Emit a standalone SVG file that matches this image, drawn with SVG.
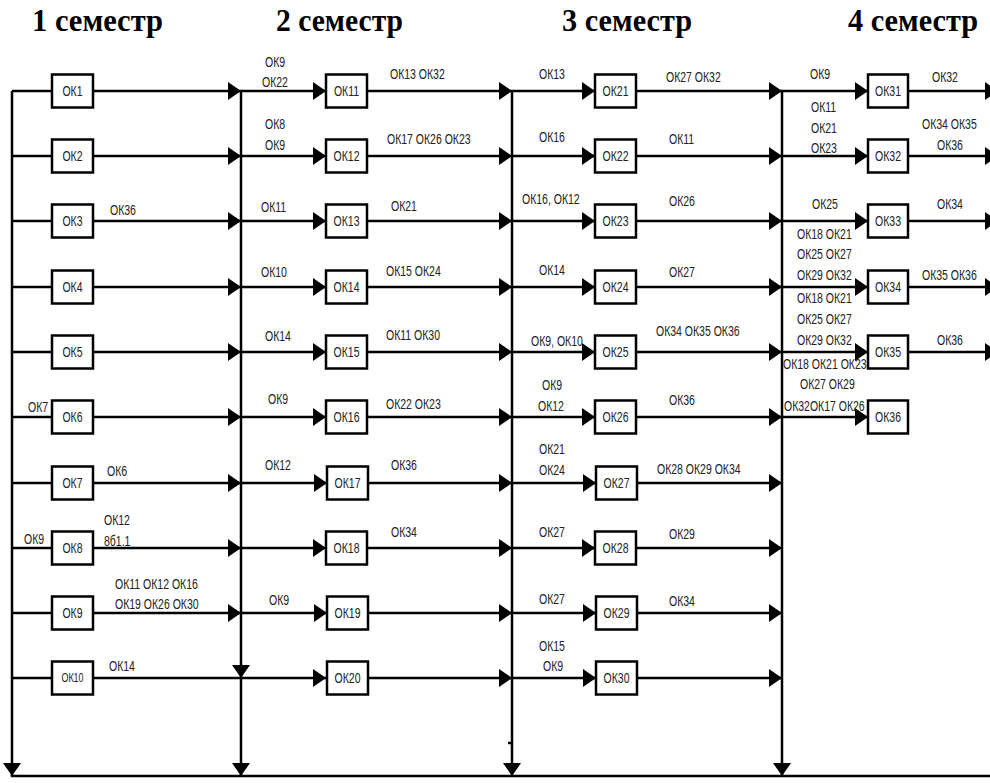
<svg xmlns="http://www.w3.org/2000/svg" width="990" height="783" viewBox="0 0 990 783">
<style>
.hd{font-family:"Liberation Serif","Times New Roman",serif;font-weight:bold;font-size:32px;fill:#000}
.lb{font-family:"Liberation Sans",Arial,sans-serif;font-size:14px;fill:#222;transform:scaleX(0.75);transform-box:fill-box;transform-origin:left center}
.bt{font-family:"Liberation Sans",Arial,sans-serif;font-size:14px;fill:#222;text-anchor:middle;transform:scaleX(0.75);transform-box:fill-box;transform-origin:center}
.bx{fill:#fff;stroke:#000;stroke-width:2.5}
.ln{stroke:#000;stroke-width:2.5;fill:none}
.ar{stroke:#000;stroke-width:2.5;fill:none;marker-end:url(#ah)}
</style>
<defs>
<marker id="ah" markerUnits="userSpaceOnUse" markerWidth="14" markerHeight="18" refX="13" refY="9" orient="auto"><path d="M0,0 L13,9 L0,18 z" fill="#000"/></marker>
</defs>
<rect width="990" height="783" fill="#fff"/>
<g id="headers">
<text class="hd" x="32" y="31" textLength="131" lengthAdjust="spacingAndGlyphs">1 семестр</text>
<text class="hd" x="276" y="31" textLength="127" lengthAdjust="spacingAndGlyphs">2 семестр</text>
<text class="hd" x="562" y="31" textLength="130" lengthAdjust="spacingAndGlyphs">3 семестр</text>
<text class="hd" x="848" y="31" textLength="130" lengthAdjust="spacingAndGlyphs">4 семестр</text>
</g>
<g id="connectors">
<line class="ar" x1="12" y1="91" x2="12" y2="776"/>
<line class="ar" x1="241" y1="91" x2="241" y2="678"/>
<line class="ar" x1="241" y1="678" x2="241" y2="776"/>
<line class="ar" x1="512" y1="91" x2="512" y2="776"/>
<line class="ar" x1="782" y1="91" x2="782" y2="776"/>
<line class="ln" x1="10.8" y1="776" x2="990" y2="776"/>
<line class="ln" x1="508" y1="743" x2="512" y2="743" stroke-width="1.5"/>
<line class="ln" x1="12" y1="91" x2="52" y2="91"/>
<line class="ln" x1="12" y1="156" x2="52" y2="156"/>
<line class="ln" x1="12" y1="221" x2="52" y2="221"/>
<line class="ln" x1="12" y1="287" x2="52" y2="287"/>
<line class="ln" x1="12" y1="352" x2="52" y2="352"/>
<line class="ln" x1="12" y1="417" x2="52" y2="417"/>
<line class="ln" x1="12" y1="483" x2="52" y2="483"/>
<line class="ln" x1="12" y1="548" x2="52" y2="548"/>
<line class="ln" x1="12" y1="613" x2="52" y2="613"/>
<line class="ln" x1="12" y1="678" x2="52" y2="678"/>
<line class="ar" x1="93" y1="91" x2="241" y2="91"/>
<line class="ar" x1="93" y1="156" x2="241" y2="156"/>
<line class="ar" x1="93" y1="221" x2="241" y2="221"/>
<line class="ar" x1="93" y1="287" x2="241" y2="287"/>
<line class="ar" x1="93" y1="352" x2="241" y2="352"/>
<line class="ar" x1="93" y1="417" x2="241" y2="417"/>
<line class="ar" x1="93" y1="483" x2="241" y2="483"/>
<line class="ar" x1="93" y1="548" x2="241" y2="548"/>
<line class="ar" x1="93" y1="613" x2="241" y2="613"/>
<line class="ar" x1="93" y1="678" x2="326" y2="678"/>
<line class="ar" x1="241" y1="91" x2="326" y2="91"/>
<line class="ar" x1="241" y1="156" x2="326" y2="156"/>
<line class="ar" x1="241" y1="221" x2="326" y2="221"/>
<line class="ar" x1="241" y1="287" x2="326" y2="287"/>
<line class="ar" x1="241" y1="352" x2="326" y2="352"/>
<line class="ar" x1="241" y1="417" x2="326" y2="417"/>
<line class="ar" x1="241" y1="483" x2="327" y2="483"/>
<line class="ar" x1="241" y1="548" x2="326" y2="548"/>
<line class="ar" x1="241" y1="613" x2="327" y2="613"/>
<line class="ar" x1="367" y1="91" x2="512" y2="91"/>
<line class="ar" x1="367" y1="156" x2="512" y2="156"/>
<line class="ar" x1="367" y1="221" x2="512" y2="221"/>
<line class="ar" x1="367" y1="287" x2="512" y2="287"/>
<line class="ar" x1="367" y1="352" x2="512" y2="352"/>
<line class="ar" x1="367" y1="417" x2="512" y2="417"/>
<line class="ar" x1="368" y1="483" x2="512" y2="483"/>
<line class="ar" x1="367" y1="548" x2="512" y2="548"/>
<line class="ar" x1="368" y1="613" x2="512" y2="613"/>
<line class="ar" x1="368" y1="678" x2="512" y2="678"/>
<line class="ar" x1="512" y1="91" x2="595" y2="91"/>
<line class="ar" x1="512" y1="156" x2="595" y2="156"/>
<line class="ar" x1="512" y1="221" x2="595" y2="221"/>
<line class="ar" x1="512" y1="287" x2="595" y2="287"/>
<line class="ar" x1="512" y1="352" x2="595" y2="352"/>
<line class="ar" x1="512" y1="417" x2="595" y2="417"/>
<line class="ar" x1="512" y1="483" x2="596" y2="483"/>
<line class="ar" x1="512" y1="548" x2="595" y2="548"/>
<line class="ar" x1="512" y1="613" x2="596" y2="613"/>
<line class="ar" x1="512" y1="678" x2="596" y2="678"/>
<line class="ar" x1="636" y1="91" x2="782" y2="91"/>
<line class="ar" x1="636" y1="156" x2="782" y2="156"/>
<line class="ar" x1="636" y1="221" x2="782" y2="221"/>
<line class="ar" x1="636" y1="287" x2="782" y2="287"/>
<line class="ar" x1="636" y1="352" x2="782" y2="352"/>
<line class="ar" x1="636" y1="417" x2="782" y2="417"/>
<line class="ar" x1="637" y1="483" x2="782" y2="483"/>
<line class="ar" x1="636" y1="548" x2="782" y2="548"/>
<line class="ar" x1="637" y1="613" x2="782" y2="613"/>
<line class="ar" x1="637" y1="678" x2="782" y2="678"/>
<line class="ar" x1="782" y1="91" x2="868" y2="91"/>
<line class="ar" x1="782" y1="156" x2="868" y2="156"/>
<line class="ar" x1="782" y1="221" x2="868" y2="221"/>
<line class="ar" x1="782" y1="287" x2="868" y2="287"/>
<line class="ar" x1="782" y1="352" x2="868" y2="352"/>
<line class="ar" x1="782" y1="417" x2="868" y2="417"/>
<line class="ar" x1="908" y1="91" x2="998" y2="91"/>
<line class="ar" x1="908" y1="156" x2="998" y2="156"/>
<line class="ar" x1="908" y1="221" x2="998" y2="221"/>
<line class="ar" x1="908" y1="287" x2="998" y2="287"/>
<line class="ar" x1="908" y1="352" x2="998" y2="352"/>
</g>
<g id="labels">
<text class="lb" x="110" y="215">ОК36</text>
<text class="lb" x="28" y="412">ОК7</text>
<text class="lb" x="107" y="476">ОК6</text>
<text class="lb" x="104" y="525">ОК12</text>
<text class="lb" x="104" y="546">8б1.1</text>
<text class="lb" x="24" y="544">ОК9</text>
<text class="lb" x="115" y="589">ОК11 ОК12 ОК16</text>
<text class="lb" x="115" y="609">ОК19 ОК26 ОК30</text>
<text class="lb" x="109" y="671">ОК14</text>
<text class="lb" x="265" y="67">ОК9</text>
<text class="lb" x="262" y="87">ОК22</text>
<text class="lb" x="390" y="79">ОК13 ОК32</text>
<text class="lb" x="265" y="129">ОК8</text>
<text class="lb" x="265" y="150">ОК9</text>
<text class="lb" x="387" y="144">ОК17 ОК26 ОК23</text>
<text class="lb" x="261" y="212">ОК11</text>
<text class="lb" x="391" y="211">ОК21</text>
<text class="lb" x="261" y="277">ОК10</text>
<text class="lb" x="386" y="276">ОК15 ОК24</text>
<text class="lb" x="265" y="341">ОК14</text>
<text class="lb" x="386" y="340">ОК11 ОК30</text>
<text class="lb" x="268" y="404">ОК9</text>
<text class="lb" x="386" y="409">ОК22 ОК23</text>
<text class="lb" x="265" y="470">ОК12</text>
<text class="lb" x="391" y="470">ОК36</text>
<text class="lb" x="391" y="537">ОК34</text>
<text class="lb" x="269" y="605">ОК9</text>
<text class="lb" x="539" y="79">ОК13</text>
<text class="lb" x="666" y="82">ОК27 ОК32</text>
<text class="lb" x="539" y="142">ОК16</text>
<text class="lb" x="669" y="144">ОК11</text>
<text class="lb" x="522" y="204">ОК16, ОК12</text>
<text class="lb" x="669" y="206">ОК26</text>
<text class="lb" x="539" y="275">ОК14</text>
<text class="lb" x="669" y="277">ОК27</text>
<text class="lb" x="531" y="346">ОК9, ОК10</text>
<text class="lb" x="656" y="336">ОК34 ОК35 ОК36</text>
<text class="lb" x="542" y="390">ОК9</text>
<text class="lb" x="538" y="411">ОК12</text>
<text class="lb" x="669" y="405">ОК36</text>
<text class="lb" x="539" y="454">ОК21</text>
<text class="lb" x="539" y="475">ОК24</text>
<text class="lb" x="657" y="474">ОК28 ОК29 ОК34</text>
<text class="lb" x="539" y="537">ОК27</text>
<text class="lb" x="669" y="539">ОК29</text>
<text class="lb" x="539" y="604">ОК27</text>
<text class="lb" x="669" y="606">ОК34</text>
<text class="lb" x="539" y="651">ОК15</text>
<text class="lb" x="543" y="671">ОК9</text>
<text class="lb" x="810" y="79">ОК9</text>
<text class="lb" x="932" y="82">ОК32</text>
<text class="lb" x="811" y="112">ОК11</text>
<text class="lb" x="811" y="133">ОК21</text>
<text class="lb" x="811" y="153">ОК23</text>
<text class="lb" x="922" y="129">ОК34 ОК35</text>
<text class="lb" x="937" y="150">ОК36</text>
<text class="lb" x="812" y="209">ОК25</text>
<text class="lb" x="937" y="209">ОК34</text>
<text class="lb" x="797" y="239">ОК18 ОК21</text>
<text class="lb" x="797" y="259">ОК25 ОК27</text>
<text class="lb" x="797" y="280">ОК29 ОК32</text>
<text class="lb" x="922" y="280">ОК35 ОК36</text>
<text class="lb" x="797" y="303">ОК18 ОК21</text>
<text class="lb" x="797" y="324">ОК25 ОК27</text>
<text class="lb" x="797" y="345">ОК29 ОК32</text>
<text class="lb" x="937" y="345">ОК36</text>
<text class="lb" x="783" y="369">ОК18 ОК21 ОК23</text>
<text class="lb" x="800" y="389">ОК27 ОК29</text>
<text class="lb" x="784" y="411">ОК32ОК17 ОК26</text>
</g>
<g id="OK1"><rect class="bx" x="52" y="74.5" width="41" height="33"/><text class="bt" x="72.5" y="96">ОК1</text></g>
<g id="OK2"><rect class="bx" x="52" y="139.5" width="41" height="33"/><text class="bt" x="72.5" y="161">ОК2</text></g>
<g id="OK3"><rect class="bx" x="52" y="204.5" width="41" height="33"/><text class="bt" x="72.5" y="226">ОК3</text></g>
<g id="OK4"><rect class="bx" x="52" y="270.5" width="41" height="33"/><text class="bt" x="72.5" y="292">ОК4</text></g>
<g id="OK5"><rect class="bx" x="52" y="335.5" width="41" height="33"/><text class="bt" x="72.5" y="357">ОК5</text></g>
<g id="OK6"><rect class="bx" x="52" y="400.5" width="41" height="33"/><text class="bt" x="72.5" y="422">ОК6</text></g>
<g id="OK7"><rect class="bx" x="52" y="466.5" width="41" height="33"/><text class="bt" x="72.5" y="488">ОК7</text></g>
<g id="OK8"><rect class="bx" x="52" y="531.5" width="41" height="33"/><text class="bt" x="72.5" y="553">ОК8</text></g>
<g id="OK9"><rect class="bx" x="52" y="596.5" width="41" height="33"/><text class="bt" x="72.5" y="618">ОК9</text></g>
<g id="OK10"><rect class="bx" x="52" y="661.5" width="41" height="33"/><text class="bt" x="72.5" y="682.5" style="font-size:12px">ОК10</text></g>
<g id="OK11"><rect class="bx" x="326" y="74.5" width="41" height="33"/><text class="bt" x="346.5" y="96">ОК11</text></g>
<g id="OK12"><rect class="bx" x="326" y="139.5" width="41" height="33"/><text class="bt" x="346.5" y="161">ОК12</text></g>
<g id="OK13"><rect class="bx" x="326" y="204.5" width="41" height="33"/><text class="bt" x="346.5" y="226">ОК13</text></g>
<g id="OK14"><rect class="bx" x="326" y="270.5" width="41" height="33"/><text class="bt" x="346.5" y="292">ОК14</text></g>
<g id="OK15"><rect class="bx" x="326" y="335.5" width="41" height="33"/><text class="bt" x="346.5" y="357">ОК15</text></g>
<g id="OK16"><rect class="bx" x="326" y="400.5" width="41" height="33"/><text class="bt" x="346.5" y="422">ОК16</text></g>
<g id="OK17"><rect class="bx" x="327" y="466.5" width="41" height="33"/><text class="bt" x="347.5" y="488">ОК17</text></g>
<g id="OK18"><rect class="bx" x="326" y="531.5" width="41" height="33"/><text class="bt" x="346.5" y="553">ОК18</text></g>
<g id="OK19"><rect class="bx" x="327" y="596.5" width="41" height="33"/><text class="bt" x="347.5" y="618">ОК19</text></g>
<g id="OK20"><rect class="bx" x="327" y="661.5" width="41" height="33"/><text class="bt" x="347.5" y="683">ОК20</text></g>
<g id="OK21"><rect class="bx" x="595" y="74.5" width="41" height="33"/><text class="bt" x="615.5" y="96">ОК21</text></g>
<g id="OK22"><rect class="bx" x="595" y="139.5" width="41" height="33"/><text class="bt" x="615.5" y="161">ОК22</text></g>
<g id="OK23"><rect class="bx" x="595" y="204.5" width="41" height="33"/><text class="bt" x="615.5" y="226">ОК23</text></g>
<g id="OK24"><rect class="bx" x="595" y="270.5" width="41" height="33"/><text class="bt" x="615.5" y="292">ОК24</text></g>
<g id="OK25"><rect class="bx" x="595" y="335.5" width="41" height="33"/><text class="bt" x="615.5" y="357">ОК25</text></g>
<g id="OK26"><rect class="bx" x="595" y="400.5" width="41" height="33"/><text class="bt" x="615.5" y="422">ОК26</text></g>
<g id="OK27"><rect class="bx" x="596" y="466.5" width="41" height="33"/><text class="bt" x="616.5" y="488">ОК27</text></g>
<g id="OK28"><rect class="bx" x="595" y="531.5" width="41" height="33"/><text class="bt" x="615.5" y="553">ОК28</text></g>
<g id="OK29"><rect class="bx" x="596" y="596.5" width="41" height="33"/><text class="bt" x="616.5" y="618">ОК29</text></g>
<g id="OK30"><rect class="bx" x="596" y="661.5" width="41" height="33"/><text class="bt" x="616.5" y="683">ОК30</text></g>
<g id="OK31"><rect class="bx" x="868" y="74.5" width="40" height="33"/><text class="bt" x="888" y="96">ОК31</text></g>
<g id="OK32"><rect class="bx" x="868" y="139.5" width="40" height="33"/><text class="bt" x="888" y="161">ОК32</text></g>
<g id="OK33"><rect class="bx" x="868" y="204.5" width="40" height="33"/><text class="bt" x="888" y="226">ОК33</text></g>
<g id="OK34"><rect class="bx" x="868" y="270.5" width="40" height="33"/><text class="bt" x="888" y="292">ОК34</text></g>
<g id="OK35"><rect class="bx" x="868" y="335.5" width="40" height="33"/><text class="bt" x="888" y="357">ОК35</text></g>
<g id="OK36"><rect class="bx" x="868" y="400.5" width="40" height="33"/><text class="bt" x="888" y="422">ОК36</text></g>
</svg>
